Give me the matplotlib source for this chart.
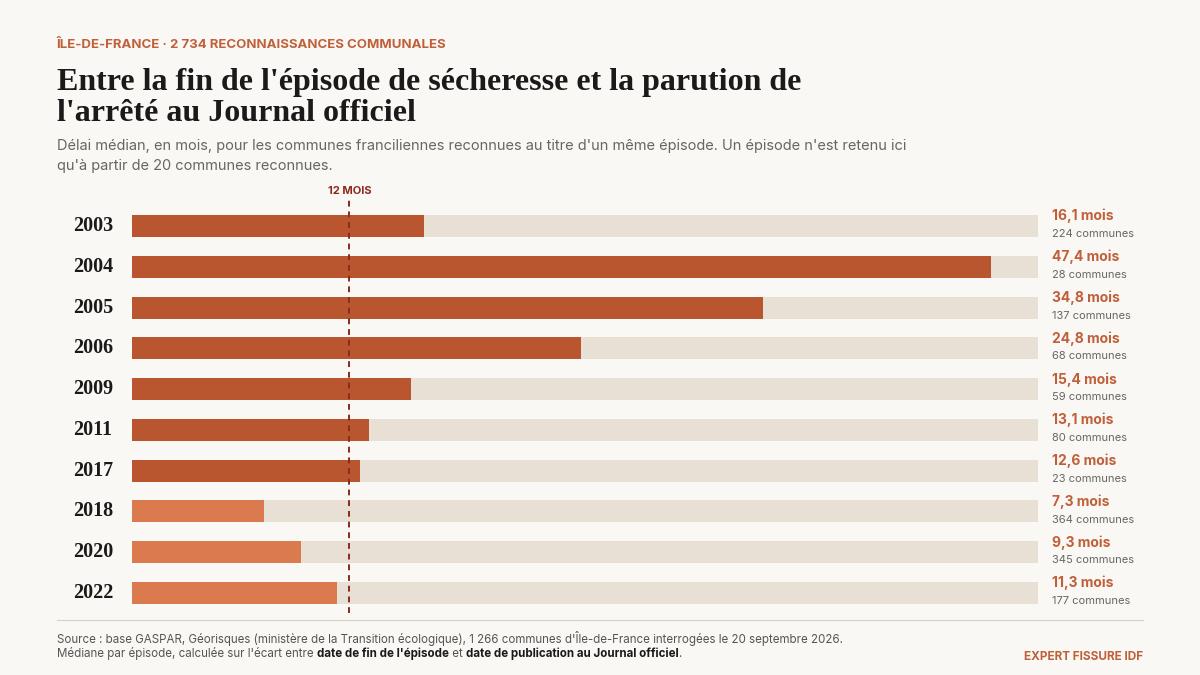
import matplotlib
matplotlib.use("Agg")
import matplotlib.pyplot as plt
from matplotlib.lines import Line2D

years = ["2003","2004","2005","2006","2009","2011","2017","2018","2020","2022"]
months = [16.1,47.4,34.8,24.8,15.4,13.1,12.6,7.3,9.3,11.3]
communes = [224,28,137,68,59,80,23,364,345,177]
recent = [False]*7 + [True]*3
xmax = 50
ref = 12

BG = "#faf8f4"; DARK = "#b9562f"; LIGHT = "#dc7a4f"; TRACK = "#e8e0d4"
ACC = "#c0603a"; INK = "#1a1a1a"; GRAY = "#666666"

plt.rcParams['font.family'] = ['Inter', 'DejaVu Sans']
fig = plt.figure(figsize=(12, 6.75), dpi=100, facecolor=BG)
W, H = 1200, 675
def fx(x): return x / W
def fy(y): return 1 - y / H

top, bot = 205.6, 613.4
ax = fig.add_axes([fx(132), fy(bot), (1038-132)/W, (bot-top)/H])
ax.set_facecolor(BG)
n = len(years)
ys = list(range(n))
ax.barh(ys, [xmax]*n, height=0.54, color=TRACK)
ax.barh(ys, months, height=0.54, color=[LIGHT if r else DARK for r in recent])
ax.set_xlim(0, xmax); ax.set_ylim(n-0.5, -0.5)
ax.axis('off')
ax.axvline(ref, ymin=-0.0, ymax=1.015, color="#8b2a1f", ls=(0,(3,2.5)), lw=1.4, clip_on=False)
ax.text(ref, -0.85, "12 MOIS", ha='center', va='center', fontsize=8, fontweight='bold', color="#8b2a1f")

for i, (yr, m, c) in enumerate(zip(years, months, communes)):
    ax.text(-2.15, i, yr, ha='center', va='center', fontsize=14.5, fontweight='bold',
            family=['Liberation Serif'], color=INK)
    ax.text(50.8, i-0.24, f"{m:.1f} mois".replace('.', ','), ha='left', va='center',
            fontsize=10, fontweight='bold', color=ACC)
    ax.text(50.8, i+0.2, f"{c} communes", ha='left', va='center', fontsize=8, color=GRAY)

fig.text(fx(57), fy(45), "ÎLE-DE-FRANCE · 2 734 RECONNAISSANCES COMMUNALES", fontsize=9.5,
         fontweight='bold', color=ACC, va='center')
fig.text(fx(57), fy(98), "Entre la fin de l'épisode de sécheresse et la parution de\nl'arrêté au Journal officiel",
         fontsize=23, fontweight='bold', family=['Liberation Serif'], color=INK, va='center', linespacing=1.1)
fig.text(fx(57), fy(156), "Délai médian, en mois, pour les communes franciliennes reconnues au titre d'un même épisode. Un épisode n'est retenu ici\nqu'à partir de 20 communes reconnues.",
         fontsize=10.5, color=GRAY, va='center', linespacing=1.45)

fig.add_artist(Line2D([fx(57), fx(1143)], [fy(620), fy(620)], color="#d8d0c4", lw=0.8))
fig.text(fx(57), fy(638), "Source : base GASPAR, Géorisques (ministère de la Transition écologique), 1 266 communes d'Île-de-France interrogées le 20 septembre 2026.",
         fontsize=8.3, color="#555555", va='center')
parts = [("Médiane par épisode, calculée sur l'écart entre ", False), ("date de fin de l'épisode", True),
         (" et ", False), ("date de publication au Journal officiel", True), (".", False)]
prev = fig.text(fx(57), fy(657), parts[0][0], fontsize=8.3, color="#555555", va='baseline')
for t, b in parts[1:]:
    prev = ax.annotate(t, xy=(1, 0), xycoords=prev, va='bottom', ha='left', fontsize=8.3,
                       fontweight='bold' if b else 'normal', color=INK if b else "#555555",
                       annotation_clip=False)
fig.text(fx(1143), fy(657), "EXPERT FISSURE IDF", fontsize=8.5, fontweight='bold', color=ACC,
         ha='right', va='center')
fig.savefig("out.png", dpi=100, facecolor=BG)
